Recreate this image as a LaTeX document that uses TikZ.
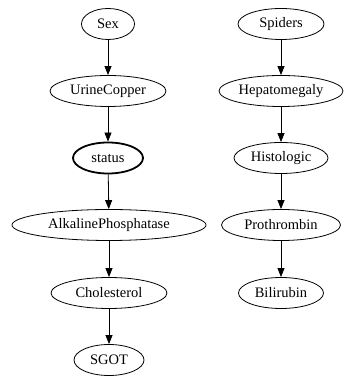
\documentclass[tikz,border=0pt]{standalone}
\usepackage{fontspec}
\setmainfont{Liberation Serif}
\usetikzlibrary{shapes.geometric, arrows.meta, positioning}

\begin{document}
\begin{tikzpicture}[x=1pt, y=1pt,
  every node/.style={font=\fontsize{14.5}{17}\selectfont},
  var/.style={ellipse, draw=black, line width=0.8pt, inner sep=0pt,
              minimum height=31pt, minimum width=#1},
  target/.style={var=#1, line width=1.8pt},
  link/.style={-{Triangle[length=9pt, width=7pt]}, line width=0.8pt}
]
  \useasboundingbox (0,0) rectangle (343,379);

  % left chain
  \node[var=53pt]     (sex)    at (108,355) {Sex};
  \node[var=116pt]    (urine)  at (108,288) {UrineCopper};
  \node[target=70pt]  (status) at (108,221) {status};
  \node[var=194pt]    (alk)    at (109,154) {AlkalinePhosphatase};
  \node[var=116pt]    (chol)   at (109,86)  {Cholesterol};
  \node[var=70pt]     (sgot)   at (109,19)  {SGOT};

  % right chain
  \node[var=86pt]     (spid)   at (281,355) {Spiders};
  \node[var=124pt]    (hepa)   at (281,288) {Hepatomegaly};
  \node[var=94pt]     (histo)  at (281,221) {Histologic};
  \node[var=119pt]    (prot)   at (281,154) {Prothrombin};
  \node[var=85pt]     (bili)   at (281,86)  {Bilirubin};

  \draw[link] (sex) -- (urine);
  \draw[link] (urine) -- (status);
  \draw[link] (status) -- (alk);
  \draw[link] (alk) -- (chol);
  \draw[link] (chol) -- (sgot);

  \draw[link] (spid) -- (hepa);
  \draw[link] (hepa) -- (histo);
  \draw[link] (histo) -- (prot);
  \draw[link] (prot) -- (bili);
\end{tikzpicture}
\end{document}
